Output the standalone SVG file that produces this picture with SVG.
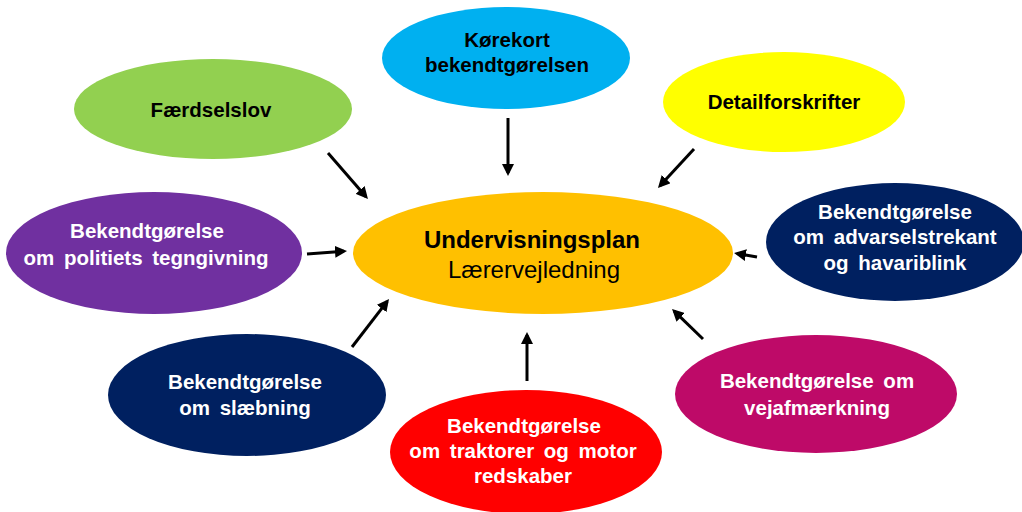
<svg xmlns="http://www.w3.org/2000/svg" width="1022" height="512" viewBox="0 0 1022 512">
<style>
.t{font-family:"Liberation Sans",Arial,sans-serif;font-size:20.5px;font-weight:bold;text-anchor:middle;word-spacing:4px}
.w{fill:#FFFFFF}
.k{fill:#000000}
.c{stroke:#000000;stroke-width:3;fill:none;marker-end:url(#ah)}
</style>
<defs>
<marker id="ah" viewBox="0 0 12 12" refX="9" refY="6" markerWidth="12" markerHeight="12" markerUnits="userSpaceOnUse" orient="auto">
<path d="M0,0 L12,6 L0,12 z" fill="#000000"/>
</marker>
</defs>
<rect x="0" y="0" width="1022" height="512" fill="#FFFFFF"/>
<g id="korekort">
<ellipse cx="506" cy="58" rx="124" ry="51" fill="#00B0F0"/>
<text class="t k" x="507" y="47">Kørekort</text>
<text class="t k" x="507" y="72">bekendtgørelsen</text>
</g>
<g id="faerdselslov">
<ellipse cx="213" cy="109" rx="139" ry="50" fill="#92D050"/>
<text class="t k" x="211" y="117">Færdselslov</text>
</g>
<g id="detailforskrifter">
<ellipse cx="784" cy="102" rx="121" ry="50" fill="#FFFF00"/>
<text class="t k" x="784" y="109">Detailforskrifter</text>
</g>
<g id="undervisningsplan">
<ellipse cx="543" cy="253" rx="190" ry="61" fill="#FFC000"/>
<text x="532" y="248" style="font-family:'Liberation Sans',Arial,sans-serif;font-size:24px;font-weight:bold;text-anchor:middle" fill="#000000">Undervisningsplan</text>
<text x="534" y="278" style="font-family:'Liberation Sans',Arial,sans-serif;font-size:24px;text-anchor:middle" fill="#000000">Lærervejledning</text>
</g>
<g id="politi">
<ellipse cx="154" cy="253" rx="148" ry="61" fill="#7030A0"/>
<text class="t w" x="147" y="238">Bekendtgørelse</text>
<text class="t w" x="146" y="265">om politiets tegngivning</text>
</g>
<g id="advarselstrekant">
<ellipse cx="895" cy="242" rx="129" ry="59" fill="#002060"/>
<text class="t w" x="895" y="219">Bekendtgørelse</text>
<text class="t w" x="895" y="244">om advarselstrekant</text>
<text class="t w" x="895" y="270">og havariblink</text>
</g>
<g id="slaebning">
<ellipse cx="247" cy="395" rx="139" ry="61" fill="#002060"/>
<text class="t w" x="245" y="389">Bekendtgørelse</text>
<text class="t w" x="245" y="415">om slæbning</text>
</g>
<g id="traktorer">
<ellipse cx="526" cy="452" rx="136" ry="62" fill="#FF0000"/>
<text class="t w" x="524" y="433">Bekendtgørelse</text>
<text class="t w" x="523" y="458">om traktorer og motor</text>
<text class="t w" x="523" y="483">redskaber</text>
</g>
<g id="vejafmaerkning">
<ellipse cx="816" cy="394" rx="141" ry="59" fill="#BE0A68"/>
<text class="t w" x="817" y="388">Bekendtgørelse om</text>
<text class="t w" x="817" y="415">vejafmærkning</text>
</g>
<g id="connectors">
<path class="c" d="M508,118 L508,173"/>
<path class="c" d="M328,153 L366,196.7"/>
<path class="c" d="M694,149 L660,185.8"/>
<path class="c" d="M307,254 L344,251.2"/>
<path class="c" d="M757,257 L737,253.5"/>
<path class="c" d="M352,347 L387.2,301.4"/>
<path class="c" d="M527,381 L527,335"/>
<path class="c" d="M703,339 L674.2,311.1"/>
</g>
</svg>
